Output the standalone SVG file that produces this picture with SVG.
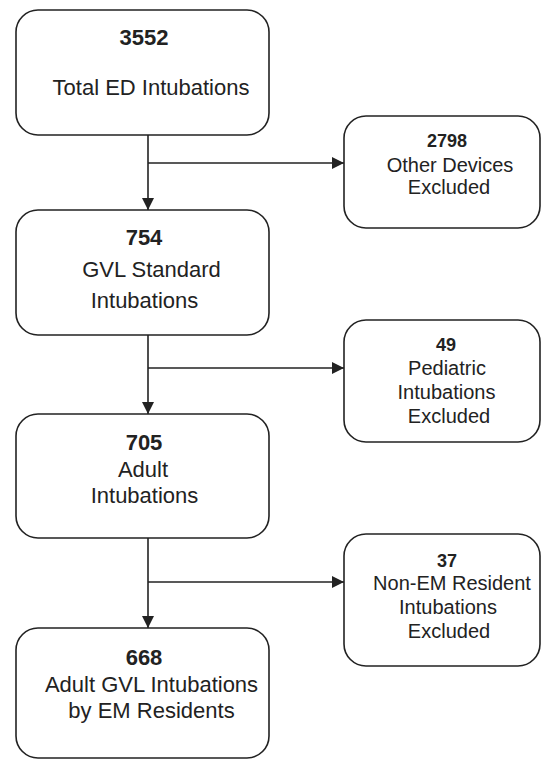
<svg xmlns="http://www.w3.org/2000/svg" width="542" height="760" viewBox="0 0 542 760">
<defs>
<style>
.box{fill:#fff;stroke:#222;stroke-width:1.6}
.ln{fill:none;stroke:#222;stroke-width:1.6}
.t{font-family:"Liberation Sans",Arial,sans-serif;fill:#222;text-anchor:middle}
.l{font-size:22px}
.lb{font-size:22px;font-weight:bold}
.r{font-size:20px}
.rb{font-size:18px;font-weight:bold}
</style>
<marker id="ah" markerWidth="12" markerHeight="12" viewBox="0 0 12 12" refX="12" refY="6" orient="auto" markerUnits="userSpaceOnUse">
<path d="M0,0 L12,6 L0,12 Z" fill="#222"/>
</marker>
</defs>
<rect width="542" height="760" fill="#fff"/>
<g id="connectors">
<path class="ln" d="M148,135 V210" marker-end="url(#ah)"/>
<path class="ln" d="M148,163 H344" marker-end="url(#ah)"/>
<path class="ln" d="M148,335 V414" marker-end="url(#ah)"/>
<path class="ln" d="M148,368 H344" marker-end="url(#ah)"/>
<path class="ln" d="M148,538 V628" marker-end="url(#ah)"/>
<path class="ln" d="M148,582 H344" marker-end="url(#ah)"/>
</g>
<g id="n1">
<rect class="box" x="16" y="10" width="253" height="125" rx="22"/>
<text class="t lb" x="144" y="45">3552</text>
<text class="t l" x="151" y="95">Total ED Intubations</text>
</g>
<g id="n2">
<rect class="box" x="16" y="210" width="253" height="125" rx="22"/>
<text class="t lb" x="144" y="245">754</text>
<text class="t l" x="151.5" y="277">GVL Standard</text>
<text class="t l" x="144.5" y="308">Intubations</text>
</g>
<g id="n3">
<rect class="box" x="16" y="414" width="253" height="124" rx="22"/>
<text class="t lb" x="144" y="450">705</text>
<text class="t l" x="143" y="477">Adult</text>
<text class="t l" x="144.5" y="503">Intubations</text>
</g>
<g id="n4">
<rect class="box" x="16" y="628" width="253" height="130" rx="22"/>
<text class="t lb" x="144" y="665">668</text>
<text class="t l" x="151.5" y="692">Adult GVL Intubations</text>
<text class="t l" x="151.5" y="718">by EM Residents</text>
</g>
<g id="e1">
<rect class="box" x="344" y="116" width="196" height="112" rx="22"/>
<text class="t rb" x="447" y="147">2798</text>
<text class="t r" x="450" y="172">Other Devices</text>
<text class="t r" x="449" y="194">Excluded</text>
</g>
<g id="e2">
<rect class="box" x="344" y="320" width="196" height="122" rx="22"/>
<text class="t rb" x="446" y="351">49</text>
<text class="t r" x="447" y="375">Pediatric</text>
<text class="t r" x="446.5" y="399">Intubations</text>
<text class="t r" x="449" y="423">Excluded</text>
</g>
<g id="e3">
<rect class="box" x="344" y="534" width="196" height="132" rx="22"/>
<text class="t rb" x="447" y="567">37</text>
<text class="t r" x="452" y="590">Non-EM Resident</text>
<text class="t r" x="448" y="614">Intubations</text>
<text class="t r" x="449" y="638">Excluded</text>
</g>
</svg>
